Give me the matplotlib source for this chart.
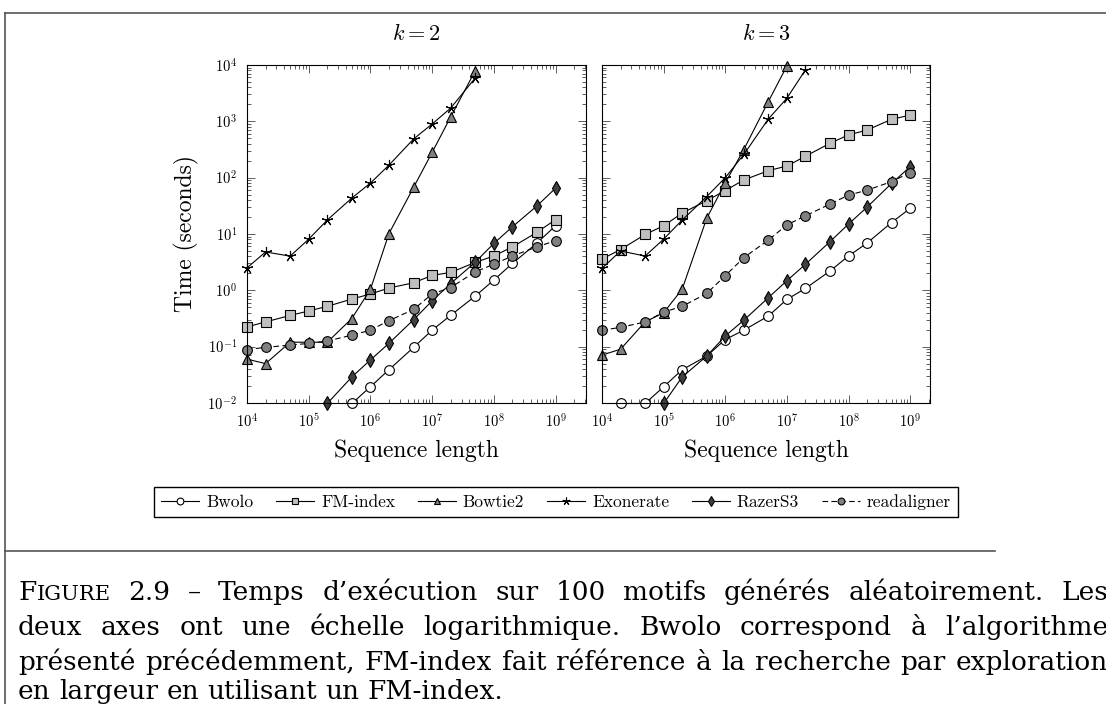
import matplotlib
matplotlib.use("Agg")
import matplotlib.pyplot as plt
from matplotlib.lines import Line2D
from matplotlib.ticker import LogLocator, NullFormatter

plt.rcParams["font.family"] = "serif"
plt.rcParams["font.serif"] = ["cmr10"]
plt.rcParams["mathtext.fontset"] = "cm"
plt.rcParams["axes.formatter.use_mathtext"] = True

# sequence lengths
x_all = [1e4, 2e4, 5e4, 1e5, 2e5, 5e5, 1e6, 2e6, 5e6, 1e7, 2e7, 5e7, 1e8, 2e8, 5e8, 1e9]

# k = 2
bwolo_x2 = x_all[5:]
bwolo_y2 = [0.0098, 0.0194, 0.039, 0.097, 0.196, 0.36, 0.79, 1.52, 3.0, 6.9, 14]
fm_x2 = x_all
fm_y2 = [0.224, 0.275, 0.358, 0.43, 0.52, 0.70, 0.86, 1.1, 1.36, 1.84, 2.08, 3.13, 4.07, 5.9, 10.7, 18]
bowtie_x2 = x_all[:12]
bowtie_y2 = [0.060, 0.050, 0.12, 0.12, 0.12, 0.316, 1.04, 10.2, 67, 280, 1200, 7900]
exo_x2 = x_all[:12]
exo_y2 = [2.5, 4.8, 4.05, 8.1, 17.7, 43.5, 80, 167, 485, 895, 1720, 5880]
razer_x2 = x_all[4:]
razer_y2 = [0.0098, 0.029, 0.058, 0.115, 0.30, 0.65, 1.32, 3.16, 6.8, 13.4, 31.5, 65]
read_x2 = x_all
read_y2 = [0.089, 0.097, 0.107, 0.114, 0.126, 0.16, 0.196, 0.29, 0.457, 0.86, 1.12, 2.13, 2.9, 4.07, 5.9, 7.6]

# k = 3
bwolo_x3 = x_all[1:]
bwolo_y3 = [0.0098, 0.0098, 0.0194, 0.039, 0.068, 0.134, 0.196, 0.35, 0.69, 1.08, 2.2, 4.07, 6.9, 16, 28.5]
fm_x3 = x_all
fm_y3 = [3.6, 5.3, 9.8, 14, 23.5, 39, 59, 91, 133, 161, 240, 407, 574, 700, 1085, 1290]
bowtie_x3 = x_all[:10]
bowtie_y3 = [0.071, 0.09, 0.275, 0.40, 1.05, 19, 81, 316, 2240, 9600]
exo_x3 = x_all[:11]
exo_y3 = [2.46, 5.0, 4.06, 8.1, 17.7, 46, 100, 258, 1100, 2570, 8200]
razer_x3 = x_all[3:]
razer_y3 = [0.0098, 0.029, 0.068, 0.155, 0.295, 0.74, 1.48, 2.9, 7.3, 15, 30, 79, 156]
read_x3 = x_all
read_y3 = [0.196, 0.22, 0.275, 0.41, 0.52, 0.88, 1.82, 3.8, 7.8, 14.5, 21, 34, 49, 60, 85, 123]

labels = ["Bwolo", "FM-index", "Bowtie2", "Exonerate", "RazerS3", "readaligner"]
styles = [
    dict(marker="o", mfc="white", ms=7, ls="-"),
    dict(marker="s", mfc="#bfbfbf", ms=7, ls="-"),
    dict(marker="^", mfc="#808080", ms=7, ls="-"),
    dict(marker=(5, 2, 0), mfc="black", ms=8, ls="-"),
    dict(marker="d", mfc="#404040", ms=7, ls="-"),
    dict(marker="o", mfc="#808080", ms=7, ls=(0, (5, 3))),
]

caption = [
    "2.9 – Temps d’exécution sur 100 motifs générés aléatoirement. Les",
    "deux axes ont une échelle logarithmique. Bwolo correspond à l’algorithme",
    "présenté précédemment, FM-index fait référence à la recherche par exploration",
    "en largeur en utilisant un FM-index.",
]

panels = [
    ("$k=2$", [(bwolo_x2, bwolo_y2), (fm_x2, fm_y2), (bowtie_x2, bowtie_y2),
               (exo_x2, exo_y2), (razer_x2, razer_y2), (read_x2, read_y2)], 3.12e9),
    ("$k=3$", [(bwolo_x3, bwolo_y3), (fm_x3, fm_y3), (bowtie_x3, bowtie_y3),
               (exo_x3, exo_y3), (razer_x3, razer_y3), (read_x3, read_y3)], 2.1e9),
]

W, H = 1106, 704
fig = plt.figure(figsize=(W / 100, H / 100), dpi=100)

ax_boxes = [(247, 65, 586, 403), (602, 65, 930, 403)]
handles = []
for i, ((title, series, xmax), (x0, y0, x1, y1)) in enumerate(zip(panels, ax_boxes)):
    ax = fig.add_axes([x0 / W, 1 - y1 / H, (x1 - x0) / W, (y1 - y0) / H])
    for (xs, ys), st in zip(series, styles):
        h, = ax.plot(xs, ys, color="black", lw=0.8, mec="black", mew=0.8,
                     clip_on=False, **st)
        if i == 0:
            handles.append(h)
    ax.set_xscale("log")
    ax.set_yscale("log")
    ax.set_xlim(1e4, xmax)
    ax.set_ylim(1e-2, 1e4)
    ax.xaxis.set_major_locator(LogLocator(base=10, numticks=12))
    ax.yaxis.set_major_locator(LogLocator(base=10, numticks=12))
    ax.xaxis.set_minor_locator(LogLocator(base=10, subs=range(2, 10), numticks=12))
    ax.yaxis.set_minor_locator(LogLocator(base=10, subs=range(2, 10), numticks=12))
    ax.xaxis.set_minor_formatter(NullFormatter())
    ax.yaxis.set_minor_formatter(NullFormatter())
    ax.tick_params(which="both", direction="in", top=True, right=True, labelsize=10.5,
                   width=0.6, color="#444444")
    ax.tick_params(which="major", length=6, pad=7)
    ax.tick_params(which="minor", length=3)
    for sp in ax.spines.values():
        sp.set_linewidth(0.8)
    ax.set_title(title, fontsize=16, pad=18)
    ax.set_xlabel("Sequence length", fontsize=17, labelpad=6)
    if i == 0:
        ax.set_ylabel("Time (seconds)", fontsize=17, labelpad=6)
    else:
        ax.tick_params(axis="y", labelleft=False)

fig.legend(handles, labels, loc="center", bbox_to_anchor=(556 / W, 1 - 502 / H),
           ncol=6, fontsize=12.5, frameon=True, fancybox=False, edgecolor="black",
           framealpha=1, handlelength=2.2, columnspacing=1.3, handletextpad=0.4,
           borderpad=0.4, markerscale=0.7)


# page frame
def fline(xs, ys):
    fig.add_artist(Line2D([x / W for x in xs], [1 - y / H for y in ys],
                          color="#555555", lw=1.2, transform=fig.transFigure))


fline([5, W], [13, 13])
fline([5, 5], [13, H])
fline([5, 995], [551, 551])

# caption, justified like the TeX paragraph
cap_font = dict(family="DejaVu Serif", fontsize=19, va="baseline")
fig.canvas.draw()
renderer = fig.canvas.get_renderer()


def width_of(s, **kw):
    t = fig.text(0, 0, s, **{**cap_font, **kw})
    w = t.get_window_extent(renderer).width
    t.remove()
    return w


def put_line(y, words, left=18, right=1108, justify=True):
    # words: list of lists of (text, size) pieces
    widths = [sum(width_of(s, fontsize=fs) for s, fs in w) for w in words]
    if justify and len(words) > 1:
        gap = (right - left - sum(widths)) / (len(words) - 1)
    else:
        gap = width_of("a b") - width_of("ab")
    x = left
    for w, wd in zip(words, widths):
        xx = x
        for s, fs in w:
            fig.text(xx / W, 1 - y / H, s, **{**cap_font, "fontsize": fs})
            xx += width_of(s, fontsize=fs)
        x += wd + gap


fs0 = cap_font["fontsize"]
baselines = [600, 635, 670, 699]
for j, (line, y) in enumerate(zip(caption, baselines)):
    words = [[(w, fs0)] for w in line.split(" ")]
    if j == 0:
        words = [[("F", fs0), ("IGURE", fs0 * 0.8)]] + words
    put_line(y, words, justify=(j < 3))

fig.savefig("out.png", dpi=100)
